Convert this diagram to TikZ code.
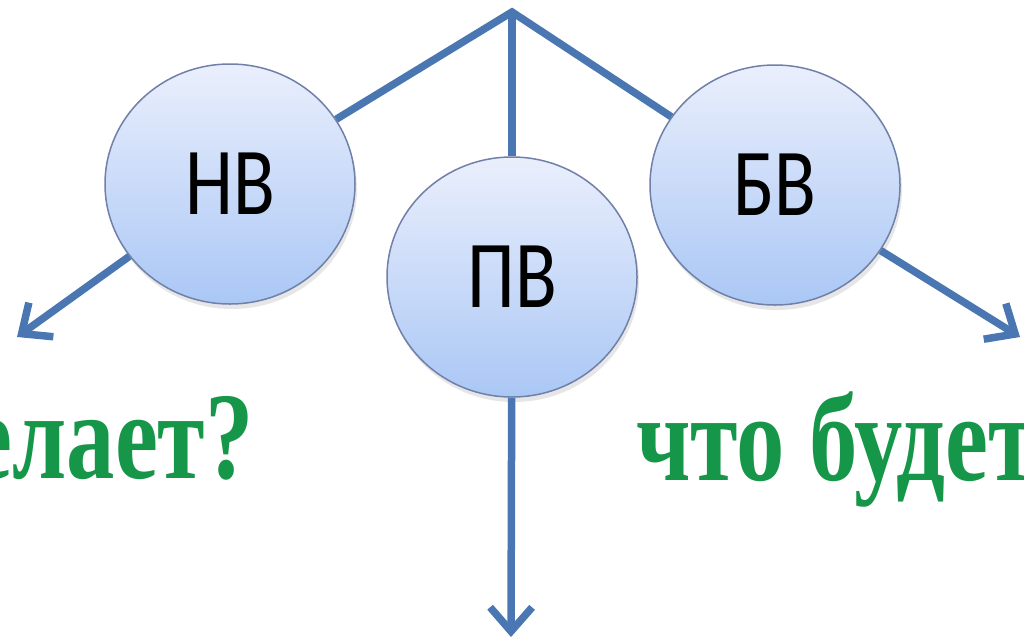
\documentclass[tikz,border=0pt]{standalone}
\usepackage{fontspec}
\usepackage{tikz}
\usetikzlibrary{shapes.geometric,arrows.meta,shadows}
\newfontfamily\ringfont[FakeStretch=0.8]{Carlito}
\newfontfamily\askfont[FakeStretch=0.78]{Liberation Serif}
\definecolor{linkblue}{RGB}{74,118,178}
\definecolor{ringtop}{RGB}{234,239,252}
\definecolor{ringbot}{RGB}{170,199,245}
\definecolor{ringedge}{RGB}{112,128,168}
\definecolor{askgreen}{RGB}{22,150,72}

\tikzset{
  ring/.style={shape=ellipse, draw=ringedge, line width=1.5pt, top color=ringtop, bottom color=ringbot,
    minimum width=250pt, minimum height=240pt, inner sep=0pt,
    drop shadow={shadow xshift=2pt, shadow yshift=-5pt, opacity=0.2},
    font=\ringfont\fontsize{96}{96}\selectfont},
  link/.style={draw=linkblue, line width=7.5pt, >={Straight Barb[length=24pt,width=42pt]}},
  ask/.style={text=askgreen, inner sep=0pt, font=\askfont\bfseries\fontsize{124}{124}\selectfont}
}

\begin{document}
\begin{tikzpicture}[x=1pt, y=-1pt]
\clip (0,0) rectangle (1024,643);
\coordinate (top) at (512,12);
\coordinate (lefttip) at (17,337);
\coordinate (righttip) at (1020,337);
\coordinate (downtip) at (511,637);

\node[ring](nv) at (230,184) {НВ};
\node[ring](pv) at (512,277) {ПВ};
\node[ring](bv) at (775,185) {БВ};

\draw[link] (nv) -- (top) -- (bv);
\path[link] (top) edge (pv);
\path[link,->] (nv) edge (lefttip);
\path[link,->] (bv) edge (righttip);
\path[link,->] (pv) edge (downtip);

\node[ask, anchor=base east](leftask) at (254,478) {елает?};
\node[ask, anchor=base west](rightask) at (636,480) {что будет};
\end{tikzpicture}
\end{document}
